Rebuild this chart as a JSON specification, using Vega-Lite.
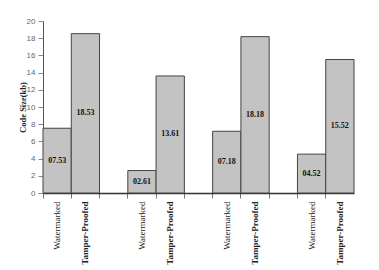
{
  "$schema": "https://vega.github.io/schema/vega-lite/v6.json",
  "width": 311,
  "height": 172,
  "autosize": {"type": "none"},
  "padding": {"left": 43, "top": 21, "right": 25, "bottom": 77},
  "background": "white",
  "config": {
    "view": {"stroke": null},
    "axisY": {
      "titleFont": "Liberation Serif",
      "titleFontWeight": "bold",
      "titleFontSize": 8.5,
      "titleColor": "#222",
      "titleAngle": -90,
      "titleX": -21,
      "titleY": 86,
      "titleAlign": "center",
      "titleBaseline": "middle",
      "labelOverlap": false,
      "labelFont": "Liberation Sans",
      "labelFontSize": 8,
      "labelColor": "#666",
      "labelPadding": 3,
      "tickSize": 5,
      "tickColor": "#888",
      "domainColor": "#555",
      "grid": false
    }
  },
  "data": {
    "values": [
      {"key": "W1", "value": 7.53},
      {"key": "T1", "value": 18.53},
      {"key": "W2", "value": 2.61},
      {"key": "T2", "value": 13.61},
      {"key": "W3", "value": 7.18},
      {"key": "T3", "value": 18.18},
      {"key": "W4", "value": 4.52},
      {"key": "T4", "value": 15.52}
    ]
  },
  "encoding": {
    "x": {
      "field": "key",
      "type": "nominal",
      "sort": null,
      "scale": {
        "domain": ["W1", "T1", "G1", "W2", "T2", "G2", "W3", "T3", "G3", "W4", "T4"],
        "paddingInner": 0,
        "paddingOuter": 0
      },
      "axis": {
        "title": null,
        "bandPosition": 0,
        "labelExpr": "test(/^W/, datum.value) ? 'Watermarked' : test(/^T/, datum.value) ? 'Tamper-Proofed' : ''",
        "labelAngle": -90,
        "labelAlign": "right",
        "labelBaseline": "middle",
        "labelFont": "Liberation Serif",
        "labelFontSize": 9,
        "labelFontWeight": {"expr": "test(/^T/, datum.value) ? 'bold' : 'normal'"},
        "labelColor": "#222",
        "labelPadding": 3,
        "labelOverlap": false,
        "tickSize": 5,
        "tickColor": "#777",
        "domainColor": "#333",
        "domainWidth": 1.5,
        "grid": false
      }
    }
  },
  "layer": [
    {
      "mark": {"type": "bar", "fill": "#c3c3c3", "stroke": "#444", "strokeWidth": 1},
      "encoding": {
        "y": {
          "field": "value",
          "type": "quantitative",
          "scale": {"domain": [0, 20], "nice": false},
          "axis": {"title": "Code Size(kb)", "values": [0, 2, 4, 6, 8, 10, 12, 14, 16, 18, 20]}
        }
      }
    },
    {
      "transform": [{"calculate": "datum.value / 2", "as": "mid"}],
      "mark": {"type": "text", "font": "Liberation Serif", "fontWeight": "bold", "fontSize": 8, "color": "#111"},
      "encoding": {
        "y": {
          "field": "mid",
          "type": "quantitative",
          "scale": {"domain": [0, 20], "nice": false},
          "axis": {"title": "Code Size(kb)", "values": [0, 2, 4, 6, 8, 10, 12, 14, 16, 18, 20]}
        },
        "text": {"field": "value", "type": "quantitative", "format": "05.2f"}
      }
    }
  ]
}
